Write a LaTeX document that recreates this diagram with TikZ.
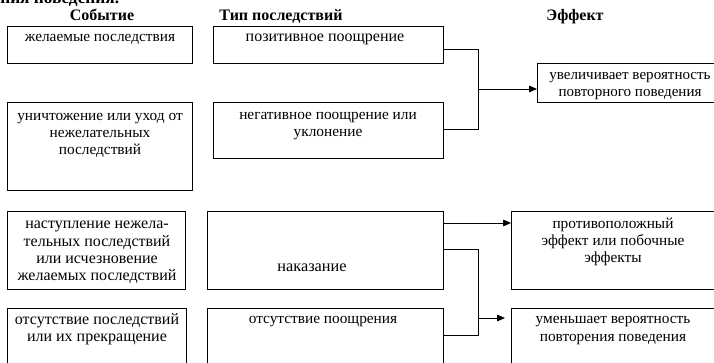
\documentclass[tikz,border=0pt]{standalone}
\usepackage{fontspec}
\setmainfont{Liberation Serif}
\usetikzlibrary{arrows.meta,positioning}

\tikzset{
  box/.style={draw, line width=0.6pt, inner sep=0pt, anchor=north west},
  wh/.style 2 args={minimum width=0.75pt*#1, minimum height=0.75pt*#2},
  txt/.style={align=center, inner sep=0pt, anchor=base, font=\fontsize{#1}{13}\selectfont},
  txt/.default=11.5,
  head/.style={inner sep=0pt, anchor=base, font=\bfseries\fontsize{12}{14}\selectfont},
  link/.style={line width=0.6pt},
  arr/.style={line width=0.6pt, -{Triangle[length=6pt,width=5pt]}}
}

\begin{document}
\begin{tikzpicture}[x=0.75pt,y=-0.75pt]
    \useasboundingbox (0,0) rectangle (714,363);
    \clip (0,0) rectangle (714,363);

    % heading cut off by the page edge
    \node[head, anchor=base west, font=\bfseries\fontsize{13}{15}\selectfont] (cap) at (0,4) {ния поведения.};

    \node[head] (event) at (102,21) {Событие};
    \node[head] (kind) at (281,21) {Тип последствий};
    \node[head] (effect) at (575,21) {Эффект};

    % boxes
    \node[box, wh={185}{37}] (want) at (7,26) {};
    \node[box, wh={230}{37}] (pos) at (213,26) {};
    \node[box, wh={185}{88}] (escape) at (7,102) {};
    \node[box, wh={230}{56}] (neg) at (213,102) {};
    \node[box, wh={186}{39}] (more) at (537,63) {};
    \node[box, wh={178}{78}] (onset) at (7,211) {};
    \node[box, wh={236}{78}] (punish) at (207,211) {};
    \node[box, wh={179}{72}] (none) at (7,308) {};
    \node[box, wh={236}{72}] (noreward) at (207,308) {};
    \node[box, wh={205}{78}] (side) at (511,211) {};
    \node[box, wh={205}{72}] (less) at (511,308) {};

    % texts (anchor = baseline of the last line)
    \node[txt] (wantT) at (100,42) {желаемые последствия};
    \node[txt=12] (posT) at (325,42) {позитивное поощрение};
    \node[txt] (escapeT) at (100,155) {уничтожение или уход от\\нежелательных\\последствий};
    \node[txt] (negT) at (328,137) {негативное поощрение или\\уклонение};
    \node[txt=11.3] (moreT) at (630,97) {увеличивает вероятность\\повторного поведения};
    \node[txt=12] (onsetT) at (97,281) {наступление нежела-\\тельных последствий\\или исчезновение\\желаемых последствий};
    \node[txt=12.2] (punishT) at (312,272) {наказание};
    \node[txt=12] (noneT) at (97,342) {отсутствие последствий\\или их прекращение};
    \node[txt] (norewardT) at (323,324) {отсутствие поощрения};
    \node[txt] (sideT) at (613,263) {противоположный\\эффект или побочные\\эффекты};
    \node[txt] (lessT) at (613,341) {уменьшает вероятность\\повторения поведения};

    % connectors
    \coordinate (j1) at (478,49);
    \coordinate (j2) at (478,129);
    \coordinate (j3) at (478,89);
    \draw[link] (pos.east |- j1) -- (j1) -- (j2) -- (neg.east |- j2);
    \draw[arr] (j3) -- (more.west |- j3);

    \coordinate (k0) at (478,223);
    \coordinate (k1) at (478,249);
    \coordinate (k2) at (478,335);
    \coordinate (k3) at (478,318);
    \draw[arr] (punish.east |- k0) -- (side.west |- k0);
    \draw[link] (punish.east |- k1) -- (k1) -- (k2) -- (noreward.east |- k2);
    \draw[arr, shorten >=4.5pt] (k3) -- (less.west |- k3);
\end{tikzpicture}
\end{document}
